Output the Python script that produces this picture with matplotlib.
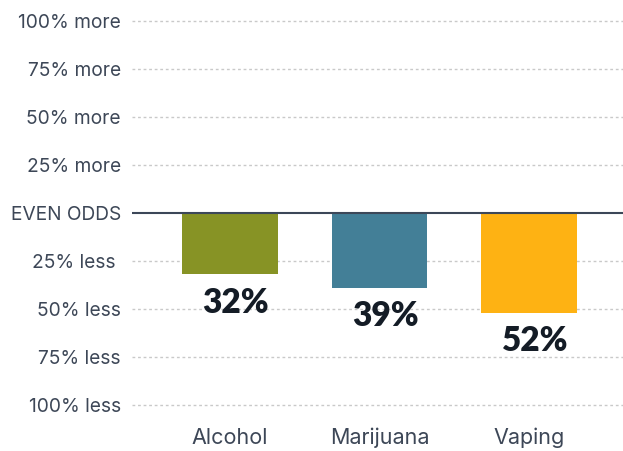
import matplotlib.pyplot as plt

# data
categories = ['Alcohol', 'Marijuana', 'Vaping']
values = [-32, -39, -52]
value_labels = ['32%', '39%', '52%']
tick_values = [100, 75, 50, 25, 0, -25, -50, -75, -100]
tick_labels = ['100% more', '75% more', '50% more', '25% more', 'EVEN ODDS',
               '25% less ', '50% less', '75% less', '100% less']
colors = ['#879325', '#437f97', '#feb213']

text_color = '#3d4757'

plt.rcParams['font.family'] = ['Inter', 'DejaVu Sans']

fig = plt.figure(figsize=(6.23, 4.51), dpi=100)
ax = fig.add_axes([0.212, 0.085, 0.788, 0.8856])

x = range(len(categories))
bars = ax.bar(x, values, width=0.64, color=colors, zorder=2)

# value labels sit just under each bar, nudged a little right like the original
for bar, lab in zip(bars, value_labels):
    ax.annotate(lab, (bar.get_x() + bar.get_width() / 2, bar.get_height()),
                xytext=(4.3, -9), textcoords='offset points',
                ha='center', va='top', fontsize=24, fontweight='heavy',
                family=['Lato', 'DejaVu Sans'], color='#141c26', zorder=3)

ax.set_ylim(-104, 104)
ax.set_xlim(-0.655, 2.63)
ax.set_yticks(tick_values)
ax.set_yticklabels(tick_labels, fontsize=13.8, color=text_color)
ax.set_xticks(list(x))
ax.set_xticklabels(categories, fontsize=15.5, color=text_color)
ax.tick_params(length=0)
ax.tick_params(axis='y', pad=8)
ax.tick_params(axis='x', pad=11)

for v in tick_values:
    if v != 0:
        ax.axhline(v, color='#c9c9c9', lw=1, ls=(0, (2, 2)), zorder=1)
ax.axhline(0, color='#3c4758', lw=1.5, zorder=3)

for s in ax.spines.values():
    s.set_visible(False)

fig.savefig('out.png', dpi=100)
